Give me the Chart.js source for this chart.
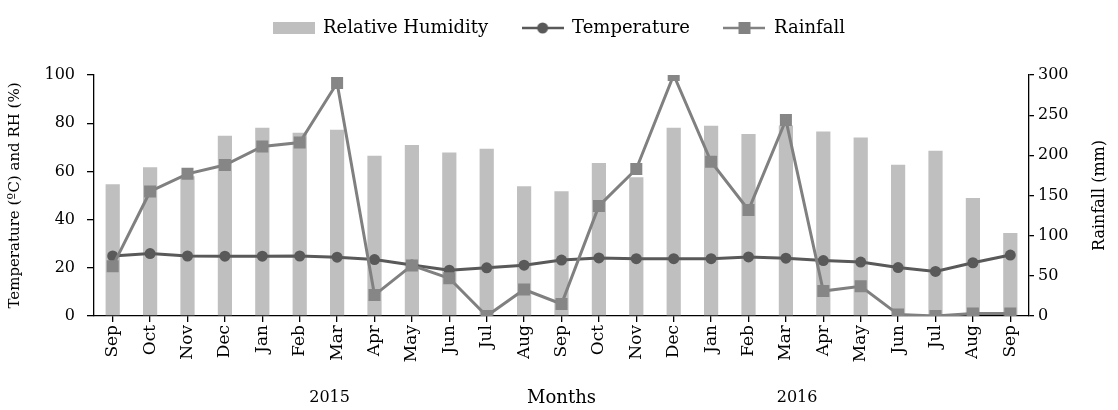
<!DOCTYPE html>
<html>
<head>
<meta charset="utf-8">
<script src="https://cdn.jsdelivr.net/npm/chart.js@4"></script>
<style>
  html, body { margin: 0; padding: 0; background: #fff; }
  #wrap { width: 1118px; height: 410px; }
</style>
</head>
<body>
<div id="wrap"><canvas id="climateChart"></canvas></div>
<script>
// Monthly data, Sep 2015 - Sep 2016
const months = ["Sep", "Oct", "Nov", "Dec", "Jan", "Feb", "Mar", "Apr", "May", "Jun", "Jul", "Aug",
  "Sep", "Oct", "Nov", "Dec", "Jan", "Feb", "Mar", "Apr", "May", "Jun", "Jul", "Aug", "Sep"];
const humidity = [54.7, 61.7, 58, 74.8, 78.1, 76, 77.3, 66.5, 71, 67.8, 69.4, 53.8,
  51.8, 63.5, 57.6, 78.1, 78.9, 75.5, 79, 76.6, 74.1, 62.8, 68.6, 49, 34.4];
const temperature = [24.9, 25.9, 24.9, 24.8, 24.8, 24.9, 24.4, 23.4, 21.2, 19, 20, 21.1,
  23.2, 24.1, 23.8, 23.8, 23.8, 24.5, 24, 23, 22.4, 20.1, 18.5, 22.1, 25.3];
const rainfall = [62, 155, 177, 188, 211, 216, 290, 26, 63, 47, 0, 33,
  15, 137, 183, 300, 192, 132, 244, 31, 37, 2, 0, 3, 3];
const leftTicks = [0, 20, 40, 60, 80, 100];
const rightTicks = [0, 50, 100, 150, 200, 250, 300];
const years = ["2015", "2016"];
const yearCenters = [5.8, 18.3]; // in category units

const FONT = '"DejaVu Serif", serif';
Chart.defaults.font.family = FONT;
Chart.defaults.font.size = 16;
Chart.defaults.color = "#000";

// small canvas icons so the legend shows line + marker like the original
function legendIcon(kind, color) {
  const c = document.createElement("canvas");
  c.width = 42;
  c.height = 14;
  const g = c.getContext("2d");
  g.fillStyle = color;
  g.strokeStyle = color;
  if (kind === "bar") {
    g.fillRect(0, 1, 42, 12);
  } else {
    g.lineWidth = 2.5;
    g.beginPath();
    g.moveTo(0, 7);
    g.lineTo(42, 7);
    g.stroke();
    if (kind === "circle") {
      g.beginPath();
      g.arc(21, 7, 5.5, 0, Math.PI * 2);
      g.fill();
    } else {
      g.fillRect(15, 1, 12, 12);
    }
  }
  return c;
}
const icons = [
  legendIcon("bar", "#bfbfbf"),
  legendIcon("circle", "#595959"),
  legendIcon("rect", "#828282")
];

// push the plot down below the legend
const legendGap = {
  id: "legendGap",
  beforeInit(chart) {
    const fit = chart.legend.fit;
    chart.legend.fit = function () {
      fit.call(this);
      this.height += 28;
    };
  }
};

// year labels under the month ticks + right axis title (reads bottom to top)
const extraText = {
  id: "extraText",
  afterDraw(chart) {
    const { ctx, chartArea } = chart;
    const x = chart.scales.x;
    ctx.save();
    ctx.font = "16px " + FONT;
    ctx.fillStyle = "#000";
    ctx.textAlign = "center";
    ctx.textBaseline = "middle";
    years.forEach((t, i) => {
      ctx.fillText(t, x.getPixelForValue(yearCenters[i]), 398);
    });
    ctx.translate(1100, (chartArea.top + chartArea.bottom) / 2);
    ctx.rotate(-Math.PI / 2);
    ctx.fillText("Rainfall (mm)", 0, 0);
    ctx.restore();
  }
};

const axisGrid = {
  drawOnChartArea: false,
  color: "#000",
  lineWidth: 1.3
};

new Chart(document.getElementById("climateChart"), {
  type: "bar",
  data: {
    labels: months,
    datasets: [
      {
        label: "Relative Humidity",
        data: humidity,
        backgroundColor: "#bfbfbf",
        barPercentage: 1,
        categoryPercentage: 0.38,
        yAxisID: "y",
        order: 3
      },
      {
        type: "line",
        label: "Temperature",
        data: temperature,
        borderColor: "#595959",
        backgroundColor: "#595959",
        borderWidth: 3,
        pointStyle: "circle",
        pointRadius: 5.5,
        pointBorderWidth: 0,
        yAxisID: "y",
        order: 2
      },
      {
        type: "line",
        label: "Rainfall",
        data: rainfall,
        borderColor: "#808080",
        backgroundColor: "#868686",
        borderWidth: 3,
        pointStyle: "rect",
        pointRadius: 8.5,
        pointBorderWidth: 0,
        yAxisID: "y1",
        order: 1
      }
    ]
  },
  options: {
    responsive: true,
    maintainAspectRatio: false,
    animation: false,
    layout: { padding: { top: -15, left: 0, right: 0, bottom: 0 } },
    plugins: {
      tooltip: { enabled: false },
      legend: {
        position: "top",
        labels: {
          usePointStyle: true,
          pointStyleWidth: 41,
          boxHeight: 12,
          padding: 34,
          color: "#000",
          font: { size: 18 },
          sort: (a, b) => a.datasetIndex - b.datasetIndex,
          generateLabels(chart) {
            const items = Chart.defaults.plugins.legend.labels.generateLabels(chart);
            items.forEach(it => { it.pointStyle = icons[it.datasetIndex]; });
            return items;
          }
        }
      }
    },
    scales: {
      x: {
        grid: { ...axisGrid, offset: false, tickLength: 6 },
        border: { color: "#000", width: 1.3 },
        ticks: { minRotation: 90, maxRotation: 90, autoSkip: false, padding: 3, font: { size: 17 } },
        title: { display: true, text: "Months", font: { size: 18 }, padding: { top: 0, bottom: 1 } },
        afterFit(scale) { scale.height = 94; }
      },
      y: {
        position: "left",
        min: 0,
        max: 100,
        afterBuildTicks(scale) { scale.ticks = leftTicks.map(v => ({ value: v })); },
        grid: { ...axisGrid, tickLength: 7 },
        border: { color: "#000", width: 1.3 },
        ticks: { padding: 12 },
        title: { display: true, text: "Temperature (ºC) and RH (%)", font: { size: 15 }, padding: { top: 6, bottom: 0 } },
        afterFit(scale) { scale.width = 94; }
      },
      y1: {
        position: "right",
        min: 0,
        max: 300,
        afterBuildTicks(scale) { scale.ticks = rightTicks.map(v => ({ value: v })); },
        grid: { ...axisGrid, tickLength: 5 },
        border: { color: "#000", width: 1.3 },
        ticks: { padding: 4 },
        afterFit(scale) { scale.width = 89; }
      }
    }
  },
  plugins: [legendGap, extraText]
});
</script>
</body>
</html>
